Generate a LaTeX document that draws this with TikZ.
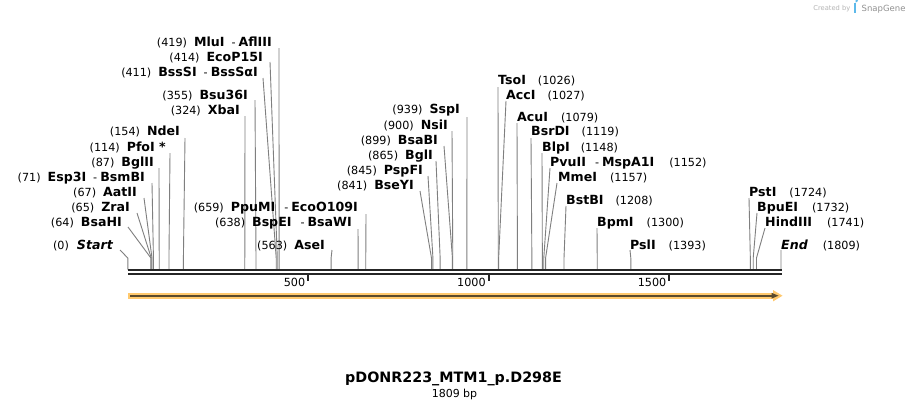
\documentclass[tikz,border=0pt]{standalone}
\usepackage{fontspec}
\setmainfont{DejaVu Sans}
\definecolor{cutgray}{HTML}{7F7F7F}
\definecolor{bbdark}{HTML}{262626}
\definecolor{featorange}{HTML}{FFC96E}
\definecolor{featdark}{HTML}{5A4A2C}
\definecolor{logogray}{HTML}{B5B5B5}
\definecolor{logoblue}{HTML}{5DB9EA}
\newcommand\numfont{\fontsize{11.2}{13}\selectfont}
\newcommand\enz[1]{{\fontsize{12.6}{14}\selectfont\bfseries #1}}
\begin{document}
\begin{tikzpicture}[x=1pt,y=-1pt,
  every node/.style={inner sep=0pt, font=\numfont, text=black},
  cut/.style={draw=cutgray, line width=0.9pt},
  lbl/.style={anchor=base east},
  rlbl/.style={anchor=base west},
  bbline/.style={draw=bbdark, line width=2pt},
  tick/.style={draw=bbdark, line width=2pt}]
\useasboundingbox (0,0) rectangle (910,408);
\fill[white] (0,0) rectangle (910,408);

% connectors: top of line / position in bp
\foreach \tx/\ty/\bp [count=\i] in {
  279/48/419, 270/62/414, 263/78/411, 255/100/355, 245/116/324,
  185/138/154, 170/153/114, 159/168/87, 152/183/71, 144/198/67,
  137/213/65, 128/227/64, 120/250/0, 366/214/659, 358/229/638,
  332/250/563, 467/117/939, 452/131/900, 444/146/899, 436/161/865,
  428/176/845, 420/191/841, 498/87/1026, 506/101/1027, 517/123/1079,
  531/138/1119, 542/153/1148, 550/168/1152, 557/183/1157, 566/206/1208,
  597/228/1300, 630/250/1393, 749/198/1724, 757/213/1732, 765/228/1741,
  781/250/1809}{
  \coordinate (t\i) at (\tx,\ty);
  \coordinate (k\i) at ({127.8+0.3611*\bp},258);
  \coordinate (s\i) at ({127.8+0.3611*\bp},269.5);
  \draw[cut] (t\i) -- (k\i) -- (s\i);
}

% backbone
\coordinate (b0) at (128,270.3);
\coordinate (b1) at (781.5,270.3);
\coordinate (c0) at (128,274.3);
\coordinate (c1) at (781.5,274.3);
\draw[bbline] (b0) -- (b1);
\draw[bbline] (c0) -- (c1);

% ticks
\foreach \bp/\lab in {500/500, 1000/1000, 1500/1500}{
  \coordinate (tk\bp) at ({127.8+0.3611*\bp},275);
  \draw[tick] (tk\bp) -- ++(0,6);
  \node[anchor=east] (tl\bp) at ({127.8+0.3611*\bp-3},282.5) {\lab};
}

% feature arrow
\fill[featorange] (128,292.6) rectangle (774,298.8);
\fill[featorange] (773,290) -- (782.5,295.7) -- (773,301.4) -- cycle;
\fill[featdark] (130,294.7) rectangle (773,296.7);
\fill[featdark] (771.5,292.8) -- (778.5,295.7) -- (771.5,298.6) -- cycle;

% left-side labels
\node[lbl] (L1) at (272,46.5) {(419)\hspace{7pt}\enz{MluI}\hspace{7pt}-\hspace{3pt}\enz{AflIII}};
\node[lbl] (L2) at (263,61.5) {(414)\hspace{7pt}\enz{EcoP15I}};
\node[lbl] (L3) at (258,76.5) {(411)\hspace{7pt}\enz{BssSI}\hspace{7pt}-\hspace{3pt}\enz{BssSαI}};
\node[lbl] (L4) at (248,99.5) {(355)\hspace{7pt}\enz{Bsu36I}};
\node[lbl] (L5) at (240,114.5) {(324)\hspace{7pt}\enz{XbaI}};
\node[lbl] (L6) at (180,135.5) {(154)\hspace{7pt}\enz{NdeI}};
\node[lbl] (L7) at (166,151.5) {(114)\hspace{7pt}\enz{PfoI *}};
\node[lbl] (L8) at (154,166.5) {(87)\hspace{7pt}\enz{BglII}};
\node[lbl] (L9) at (145,181.5) {(71)\hspace{7pt}\enz{Esp3I}\hspace{7pt}-\hspace{3pt}\enz{BsmBI}};
\node[lbl] (L10) at (137,196.5) {(67)\hspace{7pt}\enz{AatII}};
\node[lbl] (L11) at (130,211.5) {(65)\hspace{7pt}\enz{ZraI}};
\node[lbl] (L12) at (122,226.5) {(64)\hspace{7pt}\enz{BsaHI}};
\node[lbl] (L13) at (113,249.5) {(0)\hspace{8pt}\enz{\itshape Start}};
\node[lbl] (L14) at (358,211.5) {(659)\hspace{7pt}\enz{PpuMI}\hspace{9pt}-\hspace{3pt}\enz{EcoO109I}};
\node[lbl] (L15) at (352,226.5) {(638)\hspace{7pt}\enz{BspEI}\hspace{9pt}-\hspace{3pt}\enz{BsaWI}};
\node[lbl] (L16) at (325,249.5) {(563)\hspace{7pt}\enz{AseI}};
\node[lbl] (L17) at (460,113.5) {(939)\hspace{7pt}\enz{SspI}};
\node[lbl] (L18) at (448,129.5) {(900)\hspace{7pt}\enz{NsiI}};
\node[lbl] (L19) at (438,144.5) {(899)\hspace{7pt}\enz{BsaBI}};
\node[lbl] (L20) at (433,159.5) {(865)\hspace{7pt}\enz{BglI}};
\node[lbl] (L21) at (423,174.5) {(845)\hspace{7pt}\enz{PspFI}};
\node[lbl] (L22) at (414,189.5) {(841)\hspace{7pt}\enz{BseYI}};

% right-side labels
\node[rlbl] (R1) at (498,84.5) {\enz{TsoI}\hspace{12pt}(1026)};
\node[rlbl] (R2) at (506,99.5) {\enz{AccI}\hspace{12pt}(1027)};
\node[rlbl] (R3) at (517,121.5) {\enz{AcuI}\hspace{13pt}(1079)};
\node[rlbl] (R4) at (531,135.5) {\enz{BsrDI}\hspace{12pt}(1119)};
\node[rlbl] (R5) at (542,151.5) {\enz{BlpI}\hspace{11pt}(1148)};
\node[rlbl] (R6) at (550,166.5) {\enz{PvuII}\hspace{9pt}-\hspace{3pt}\enz{MspA1I}\hspace{15pt}(1152)};
\node[rlbl] (R7) at (558,181.5) {\enz{MmeI}\hspace{13pt}(1157)};
\node[rlbl] (R8) at (566,204.5) {\enz{BstBI}\hspace{12pt}(1208)};
\node[rlbl] (R9) at (597,226.5) {\enz{BpmI}\hspace{13pt}(1300)};
\node[rlbl] (R10) at (630,249.5) {\enz{PslI}\hspace{13pt}(1393)};
\node[rlbl] (R11) at (749,196.5) {\enz{PstI}\hspace{13pt}(1724)};
\node[rlbl] (R12) at (757,211.5) {\enz{BpuEI}\hspace{14pt}(1732)};
\node[rlbl] (R13) at (765,226.5) {\enz{HindIII}\hspace{15pt}(1741)};
\node[rlbl] (R14) at (781,249.5) {\enz{\itshape End}\hspace{15pt}(1809)};

% title
\node[anchor=base, font=\fontsize{14.3}{16}\selectfont\bfseries] (title) at (453.5,382.8) {pDONR223\_MTM1\_p.D298E};
\node[anchor=base, font=\fontsize{11}{13}\selectfont] (size) at (454.5,397.5) {1809 bp};

% logo
\node[anchor=base east, font=\fontsize{6.7}{8}\selectfont, text=logogray] (cb) at (850.5,10) {Created by};
\fill[logoblue] (853.5,2.5) rectangle (855.5,12.5);
\fill[logoblue] (855.5,2.5) arc[start angle=90, end angle=-90, radius=2.5] -- cycle;
\node[anchor=base west, font=\fontsize{8.5}{10}\selectfont, text=logogray!80!black] (sg) at (861.5,11) {SnapGene};
\end{tikzpicture}
\end{document}
